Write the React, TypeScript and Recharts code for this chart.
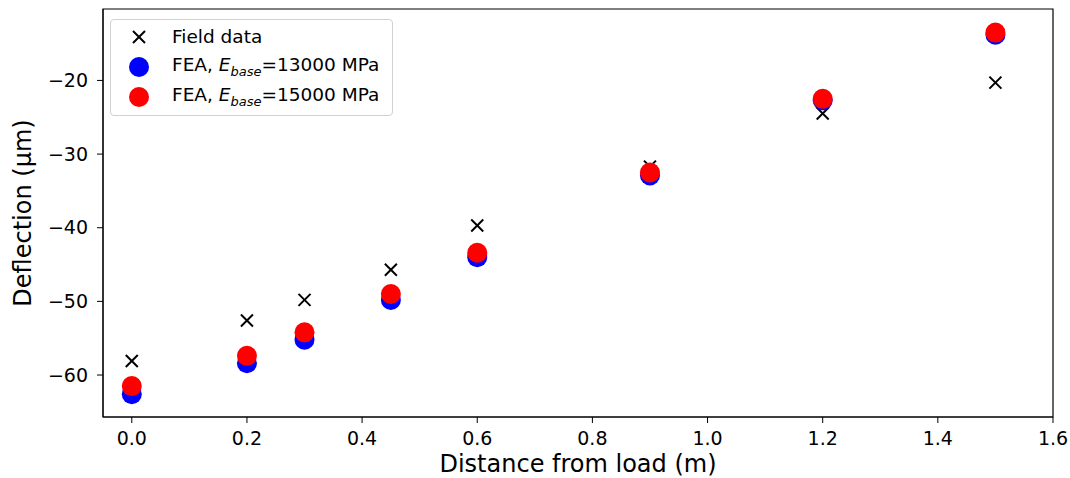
import React from "react"
import { ScatterChart, Scatter, XAxis, YAxis, ReferenceArea } from "recharts"

const distances = [0.0, 0.2, 0.3, 0.45, 0.6, 0.9, 1.2, 1.5]
const fieldData = [-58.1, -52.6, -49.8, -45.7, -39.7, -31.7, -24.5, -20.3]
const fea13000 = [-62.6, -58.4, -55.2, -49.8, -44.0, -32.9, -22.7, -13.8]
const fea15000 = [-61.5, -57.4, -54.2, -49.0, -43.4, -32.5, -22.5, -13.5]

const xTicks = [0, 0.2, 0.4, 0.6, 0.8, 1.0, 1.2, 1.4, 1.6]
const yTicks = [-60, -50, -40, -30, -20]

const xDomain = [-0.05, 1.6]
const yDomain = [-65.7, -10.3]

const toPoints = (ys: number[]) => distances.map((x, i) => ({ x, y: ys[i] }))

const FONT = "'DejaVu Sans', sans-serif"

const CrossMark = (props: any) => {
    const { cx, cy } = props
    const s = 6
    return (
        <g stroke="#000" strokeWidth={2}>
            <line x1={cx - s} y1={cy - s} x2={cx + s} y2={cy + s} />
            <line x1={cx - s} y1={cy + s} x2={cx + s} y2={cy - s} />
        </g>
    )
}

const Dot = (color: string) => (props: any) => (
    <circle cx={props.cx} cy={props.cy} r={10} fill={color} />
)

const fmtMinus = (v: number) => (v < 0 ? "\u2212" + Math.abs(v) : String(v))

function LegendBox() {
    const row = { display: "flex", alignItems: "center", height: 30 }
    const mark = { width: 55, display: "flex", justifyContent: "center", marginRight: 6 }
    const sub = { fontStyle: "italic", fontSize: 13 }
    return (
        <div
            style={{
                position: "absolute",
                left: 110,
                top: 19,
                width: 283,
                height: 97,
                border: "1px solid #d0d0d0",
                borderRadius: 4,
                background: "rgba(255,255,255,0.85)",
                fontFamily: FONT,
                fontSize: 18.5,
                color: "#000",
                paddingTop: 2,
                boxSizing: "border-box",
                lineHeight: 1,
            }}
        >
            <div style={row}>
                <div style={mark}>
                    <svg width={20} height={20}>
                        <CrossMark cx={10} cy={10} />
                    </svg>
                </div>
                <span>Field data</span>
            </div>
            <div style={row}>
                <div style={mark}>
                    <svg width={20} height={20}>
                        <circle cx={10} cy={10} r={10} fill="#0000ff" />
                    </svg>
                </div>
                <span>
                    FEA, <i>E</i>
                    <sub style={sub}>base</sub>=13000 MPa
                </span>
            </div>
            <div style={row}>
                <div style={mark}>
                    <svg width={20} height={20}>
                        <circle cx={10} cy={10} r={10} fill="#ff0000" />
                    </svg>
                </div>
                <span>
                    FEA, <i>E</i>
                    <sub style={sub}>base</sub>=15000 MPa
                </span>
            </div>
        </div>
    )
}

export default function App() {
    const tickStyle = { fill: "#000", fontSize: 19, fontFamily: FONT }
    const labelStyle = { fill: "#000", fontSize: 24, fontFamily: FONT }
    return (
        <div style={{ position: "absolute", left: 0, top: 0, width: 1070, height: 478, background: "#fff", fontFamily: FONT }}>
            <ScatterChart width={1070} height={478} margin={{ top: 9, right: 17, bottom: 0, left: 0 }}>
                <XAxis
                    type="number"
                    dataKey="x"
                    domain={xDomain}
                    ticks={xTicks}
                    allowDataOverflow
                    tickFormatter={(v) => Number(v).toFixed(1)}
                    stroke="#000"
                    tick={tickStyle}
                    tickSize={6}
                    tickMargin={9}
                    height={61}
                    label={{ value: "Distance from load (m)", position: "insideBottom", offset: 6, style: labelStyle }}
                />
                <YAxis
                    type="number"
                    dataKey="y"
                    domain={yDomain}
                    ticks={yTicks}
                    allowDataOverflow
                    tickFormatter={fmtMinus}
                    stroke="#000"
                    tick={tickStyle}
                    tickSize={6}
                    tickMargin={9}
                    width={103}
                    label={{ value: "Deflection (\u03bcm)", angle: -90, position: "insideLeft", offset: 22, style: { ...labelStyle, textAnchor: "middle" } }}
                />
                <ReferenceArea x1={xDomain[0]} x2={xDomain[1]} y1={yDomain[0]} y2={yDomain[1]} fill="none" stroke="#000" strokeWidth={1.2} ifOverflow="visible" />
                <Scatter name="Field data" data={toPoints(fieldData)} shape={CrossMark} isAnimationActive={false} />
                <Scatter name="FEA 13000" data={toPoints(fea13000)} shape={Dot("#0000ff")} isAnimationActive={false} />
                <Scatter name="FEA 15000" data={toPoints(fea15000)} shape={Dot("#ff0000")} isAnimationActive={false} />
            </ScatterChart>
            <LegendBox />
        </div>
    )
}
